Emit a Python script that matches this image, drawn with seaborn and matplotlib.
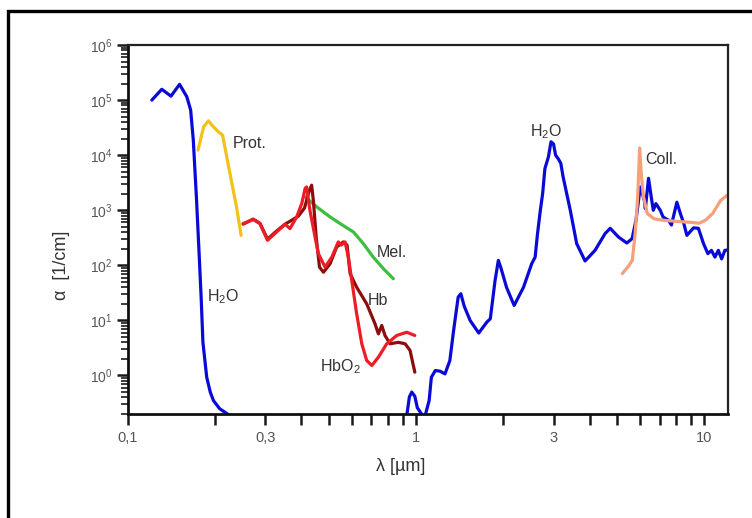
import numpy as np
import pandas as pd
import matplotlib
matplotlib.use("Agg")
import matplotlib.pyplot as plt
import matplotlib.ticker as mticker
from matplotlib.patches import Rectangle
import seaborn as sns

# ---------------- data ----------------
h2o_uv_x = [0.121, 0.131, 0.141, 0.151, 0.160, 0.165, 0.1685, 0.173, 0.177, 0.1795, 0.182,
            0.1876, 0.193, 0.198, 0.208, 0.223, 0.235]
h2o_uv_y = [1.0e5, 1.57e5, 1.18e5, 1.93e5, 1.15e5, 6.6e4, 1.9e4, 1.5e3, 1.23e2, 25, 4.0,
            0.93, 0.5, 0.35, 0.25, 0.195, 0.17]

h2o_ir_x = [0.915, 0.93, 0.948, 0.966, 0.99, 1.01, 1.045, 1.07, 1.11, 1.13, 1.166, 1.21, 1.26,
            1.31, 1.35, 1.40, 1.43, 1.47, 1.54, 1.65, 1.76, 1.81, 1.88, 1.93, 1.97, 2.06, 2.19,
            2.36, 2.52, 2.59, 2.64, 2.70, 2.75, 2.80, 2.88, 2.94, 3.0, 3.05, 3.12, 3.18, 3.24,
            3.43, 3.61, 3.86, 4.18, 4.53, 4.72, 5.04, 5.39, 5.62, 5.8, 6.0, 6.2, 6.25, 6.41,
            6.55, 6.66, 6.8, 7.04, 7.2, 7.52, 7.7, 8.04, 8.27, 8.5, 8.71, 9.19, 9.55, 9.95,
            10.3, 10.6, 10.9, 11.2, 11.5, 11.8, 12.1]
h2o_ir_y = [0.15, 0.2, 0.41, 0.5, 0.42, 0.26, 0.2, 0.17, 0.35, 0.93, 1.23, 1.2, 1.07,
            1.87, 6.6, 26.5, 30.5, 18, 10, 5.9, 9.3, 10.7, 53, 123, 90, 40, 18.7,
            40, 107, 141, 377, 1000, 2.0e3, 5.7e3, 9.3e3, 1.75e4, 1.6e4, 1.0e4, 8.5e3, 7.1e3, 4.0e3,
            1000, 248, 120, 187, 377, 470, 327, 254, 305, 658, 2.65e3, 1.5e3, 1.07e3, 3.8e3,
            1.75e3, 1000, 1.32e3, 1000, 755, 658, 540, 1.4e3, 870, 573, 350, 480, 470, 248,
            163, 187, 141, 187, 131, 187, 190]

prot_x = [0.175, 0.183, 0.19, 0.198, 0.206, 0.213, 0.226, 0.238, 0.247]
prot_y = [1.23e4, 3.27e4, 4.2e4, 3.27e4, 2.65e4, 2.3e4, 4.6e3, 1.15e3, 350]

hbo2_x = [0.251, 0.272, 0.287, 0.305, 0.328, 0.351, 0.365, 0.385, 0.401, 0.412, 0.417, 0.428,
          0.446, 0.458, 0.483, 0.51, 0.537, 0.55, 0.567, 0.582, 0.598, 0.622, 0.648, 0.674,
          0.702, 0.74, 0.791, 0.857, 0.928, 0.99]
hbo2_y = [573, 678, 573, 285, 403, 556, 465, 755, 1320, 2500, 2650, 1000,
          327, 163, 93, 141, 266, 233, 266, 141, 53, 13.2, 3.77, 1.87,
          1.52, 2.15, 3.77, 5.33, 6.1, 5.33]

hb_x = [0.251, 0.272, 0.287, 0.305, 0.328, 0.351, 0.37, 0.39, 0.41, 0.425, 0.434, 0.44, 0.45,
        0.462, 0.477, 0.503, 0.53, 0.559, 0.576, 0.59, 0.622, 0.674, 0.72, 0.74, 0.76, 0.78,
        0.812, 0.868, 0.916, 0.953, 0.99]
hb_y = [560, 690, 580, 300, 420, 560, 658, 780, 1100, 2200, 2850, 1500, 327,
        93, 75, 107, 215, 266, 233, 71, 40, 20, 8.7, 5.7, 8.1, 5.33,
        3.77, 4.0, 3.77, 2.85, 1.15]

mel_x = [0.412, 0.452, 0.503, 0.545, 0.606, 0.656, 0.71, 0.77, 0.834]
mel_y = [1750, 1150, 755, 573, 403, 248, 141, 87, 57]

coll_x = [5.2, 5.45, 5.63, 5.76, 5.85, 5.9, 5.97, 6.05, 6.15, 6.35, 6.7, 7.2, 8.3, 9.1, 9.6,
          10.1, 10.7, 11.4, 12.0]
coll_y = [71, 95, 123, 377, 1200, 2650, 13500, 4500, 1800, 870, 700, 658, 620, 600, 580,
          658, 870, 1500, 1860]

x_tick_pos = [0.1, 0.2, 0.3, 0.4, 0.5, 0.6, 0.7, 0.8, 0.9, 1, 2, 3, 4, 5, 6, 7, 8, 9, 10]
x_tick_lab = {0.1: "0,1", 0.3: "0,3", 1: "1", 3: "3", 10: "10"}

labels = [
    ("H$_2$O", 0.188, 27.3),
    ("Prot.", 0.231, 1.65e4),
    ("Mel.", 0.733, 172),
    ("Hb", 0.681, 23),
    ("HbO$_2$", 0.464, 1.46),
    ("H$_2$O", 2.49, 2.7e4),
    ("Coll.", 6.24, 8.5e3),
]

# ---------------- style ----------------
sns.set_style("white")
plt.rcParams["font.family"] = ["Liberation Sans", "DejaVu Sans"]
plt.rcParams["mathtext.fontset"] = "custom"
plt.rcParams["mathtext.rm"] = "Liberation Sans"
plt.rcParams["mathtext.it"] = "Liberation Sans:italic"
plt.rcParams["mathtext.bf"] = "Liberation Sans:bold"
plt.rcParams["lines.solid_joinstyle"] = "round"
plt.rcParams["lines.solid_capstyle"] = "round"

fig = plt.figure(figsize=(7.52, 5.18), dpi=100)
fig.patch.set_facecolor("white")
ax = fig.add_axes([128 / 752, 1 - 414 / 518, 600 / 752, 369 / 518])

series = [
    (h2o_uv_x, h2o_uv_y, "#0a0ad8"),
    (h2o_ir_x, h2o_ir_y, "#0a0ad8"),
    (prot_x, prot_y, "#f2c21a"),
    (mel_x, mel_y, "#3cbf3c"),
    (hb_x, hb_y, "#8e0c0c"),
    (hbo2_x, hbo2_y, "#ee1c24"),
    (coll_x, coll_y, "#f4a07a"),
]
for xs, ys, col in series:
    df = pd.DataFrame({"x": xs, "y": ys})
    sns.lineplot(data=df, x="x", y="y", ax=ax, color=col, lw=2.3,
                 estimator=None, sort=False, legend=False)

ax.set_xscale("log")
ax.set_yscale("log")
ax.set_xlim(0.1, 12.1)
ax.set_ylim(0.2, 1e6)

# x ticks
ax.xaxis.set_major_locator(mticker.FixedLocator(x_tick_pos))
ax.xaxis.set_major_formatter(mticker.FixedFormatter([x_tick_lab.get(p, "") for p in x_tick_pos]))
ax.xaxis.set_minor_locator(mticker.NullLocator())
ax.tick_params(axis="x", which="major", direction="out", length=8, width=1.8,
               colors="#1a1a1a", labelcolor="#555555", labelsize=10.5, pad=4, bottom=True)

# y ticks
ax.yaxis.set_major_locator(mticker.LogLocator(base=10, numticks=20))
ax.yaxis.set_minor_locator(mticker.LogLocator(base=10, subs=np.arange(2, 10), numticks=20))
ax.yaxis.set_minor_formatter(mticker.NullFormatter())
ax.tick_params(axis="y", which="major", direction="out", length=8, width=1.8,
               colors="#1a1a1a", labelcolor="#555555", labelsize=10, pad=3, left=True)
ax.tick_params(axis="y", which="minor", direction="out", length=5, width=1.2,
               colors="#1a1a1a", left=True)

for side in ["left", "bottom"]:
    ax.spines[side].set_linewidth(2.0)
    ax.spines[side].set_color("#111111")
for side in ["top", "right"]:
    ax.spines[side].set_linewidth(1.6)
    ax.spines[side].set_color("#222222")

ax.set_xlabel("λ [µm]", fontsize=13, color="#333333")
ax.set_ylabel("α  [1/cm]", fontsize=13, color="#333333")
ax.xaxis.set_label_coords(0.455, -0.118)
ax.yaxis.set_label_coords(-0.097, 0.404)

for txt, x, y in labels:
    ax.text(x, y, txt, fontsize=11.5, color="#333333", ha="left", va="center")

# figure border (left and top visible in the reference)
fig.patches.append(Rectangle((8 / 752, -0.2), 1.5, (1 - 11 / 518) + 0.2,
                             transform=fig.transFigure, fill=False,
                             edgecolor="black", lw=2.4, clip_on=False))

fig.savefig("out.png", dpi=100, facecolor="white")
